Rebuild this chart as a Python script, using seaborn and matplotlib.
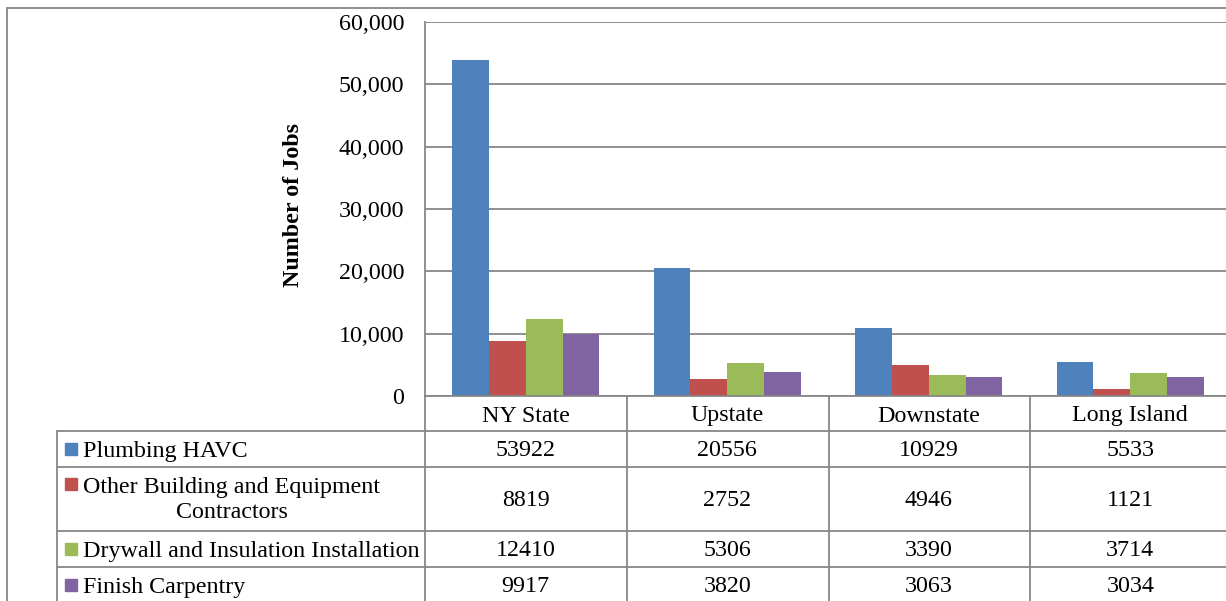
import matplotlib
matplotlib.use("Agg")
import matplotlib.pyplot as plt
import matplotlib.transforms as mtransforms
from matplotlib.lines import Line2D
from matplotlib.patches import Rectangle
from matplotlib.ticker import FuncFormatter
import pandas as pd
import seaborn as sns

# Data
categories = ["NY State", "Upstate", "Downstate", "Long Island"]
series_names = ["Plumbing HAVC", "Other Building and Equipment\nContractors",
                "Drywall and Insulation Installation", "Finish Carpentry"]
plumbing = [53922, 20556, 10929, 5533]
other_building = [8819, 2752, 4946, 1121]
drywall = [12410, 5306, 3390, 3714]
carpentry = [9917, 3820, 3063, 3034]
colors = ["#4F81BD", "#C0504D", "#9BBB59", "#8064A2"]

all_values = [plumbing, other_building, drywall, carpentry]
rows = []
for name, vals in zip(series_names, all_values):
    for cat, v in zip(categories, vals):
        rows.append({"region": cat, "series": name, "jobs": v})
df = pd.DataFrame(rows)

sns.set_style("white")
plt.rcParams["font.family"] = ["Liberation Serif", "DejaVu Serif"]
plt.rcParams["text.color"] = "black"
plt.rcParams["axes.labelcolor"] = "black"
plt.rcParams["ytick.labelcolor"] = "black"

W, H = 1226, 601
fig = plt.figure(figsize=(W / 100, H / 100), dpi=100)
GRAY = "#878787"
FS = 17.3


def px(x, y):
    return x / W, 1 - y / H


# plot area in pixels: x 425..1231, y 22..396
ax = fig.add_axes([425 / W, 1 - 396 / H, 806 / W, 374 / H])
sns.barplot(data=df, x="region", y="jobs", hue="series", hue_order=series_names,
            order=categories, palette=colors, width=0.73, gap=0, saturation=1,
            linewidth=0, legend=False, ax=ax)

ax.set_xlim(-0.5, 3.5)
ax.set_ylim(0, 60000)
ax.set_yticks(range(0, 60001, 10000))
ax.yaxis.set_major_formatter(FuncFormatter(lambda v, p: f"{v:,.0f}"))
ax.set_xticks([])
ax.set_xlabel("")
ax.set_ylabel("Number of Jobs", fontsize=FS, fontweight="bold")
ax.yaxis.set_label_coords(-0.15, 0.51)
ax.tick_params(axis="y", length=3, width=1.3, color=GRAY, pad=12, labelsize=FS)
ax.yaxis.grid(True, color=GRAY, lw=1.3)
ax.set_axisbelow(True)
for side in ["top", "right", "bottom"]:
    ax.spines[side].set_visible(False)
ax.spines["left"].set_color(GRAY)
ax.spines["left"].set_linewidth(1.3)


def hline(y, x0, x1):
    (a, b), (c, d) = px(x0, y), px(x1, y)
    fig.add_artist(Line2D([a, c], [b, d], color=GRAY, lw=1.3))


def vline(x, y0, y1):
    (a, b), (c, d) = px(x, y0), px(x, y1)
    fig.add_artist(Line2D([a, c], [b, d], color=GRAY, lw=1.3))


# outer chart border
hline(8, 7, W)
vline(7, 8, H)

# data table grid
hline(396, 425, W)
for y in [431, 467, 531, 567]:
    hline(y, 57, W)
vline(57, 431, H)
vline(425, 396, H)
for x in [627, 829, 1030]:
    vline(x, 396, H)

# header row and values
trans = mtransforms.blended_transform_factory(ax.transData, fig.transFigure)
for i, cat in enumerate(categories):
    fig.text(i, 1 - 416 / H, cat, transform=trans, ha="center", va="center", fontsize=FS)

row_centers = [451, 500, 551, 587]
for r, (name, vals, col) in enumerate(zip(series_names, all_values, colors)):
    yc = row_centers[r]
    for i, v in enumerate(vals):
        fig.text(i, 1 - yc / H, str(v), transform=trans, ha="center", va="center", fontsize=FS)
    key_y = yc - 16 if "\n" in name else yc - 2
    x0, y0 = px(65, key_y + 6)
    fig.add_artist(Rectangle((x0, y0), 12 / W, 12 / H, color=col, transform=fig.transFigure))
    fig.text(83 / W, 1 - yc / H, name, ha="left", va="center", fontsize=FS,
             multialignment="center", linespacing=1.25)

fig.savefig("out.png", dpi=100)
